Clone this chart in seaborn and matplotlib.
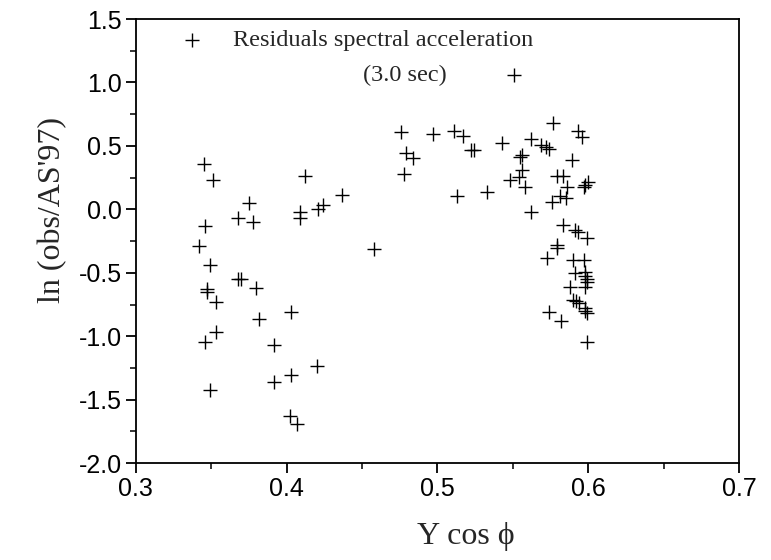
import numpy as np
import pandas as pd
import matplotlib
matplotlib.use('Agg')
import matplotlib.pyplot as plt
import seaborn as sns
from matplotlib.ticker import MultipleLocator

# residuals
y_cos_phi = [
    0.345, 0.351, 0.412, 0.375, 0.368, 0.378, 0.409, 0.409, 0.421, 0.424,
    0.346, 0.342, 0.349, 0.368, 0.370, 0.380, 0.347, 0.347, 0.353, 0.403,
    0.382, 0.353, 0.346, 0.392, 0.420, 0.403, 0.392, 0.349, 0.402, 0.407,
    0.437, 0.458,
    0.476, 0.497, 0.511, 0.517, 0.479, 0.484, 0.478, 0.522, 0.524, 0.513,
    0.533,
    0.551, 0.577, 0.593, 0.596, 0.543, 0.562, 0.569, 0.572, 0.574, 0.556,
    0.555, 0.589, 0.556, 0.548, 0.554, 0.558, 0.579, 0.583, 0.598, 0.597,
    0.586, 0.581, 0.576, 0.585, 0.562, 0.583, 0.591, 0.593, 0.599, 0.579,
    0.579, 0.573, 0.590, 0.597, 0.591, 0.598, 0.598, 0.599, 0.599, 0.588,
    0.598, 0.590, 0.592, 0.594, 0.598, 0.598, 0.599, 0.574, 0.582, 0.599,
    0.600,
]
ln_residual = [
    0.359, 0.231, 0.263, 0.047, -0.066, -0.100, -0.024, -0.066, 0.005, 0.034,
    -0.129, -0.291, -0.435, -0.546, -0.546, -0.622, -0.624, -0.653, -0.732, -0.811,
    -0.868, -0.968, -1.047, -1.067, -1.238, -1.306, -1.362, -1.427, -1.629, -1.689,
    0.110, -0.312,
    0.613, 0.595, 0.619, 0.579, 0.443, 0.404, 0.278, 0.464, 0.464, 0.107,
    0.133,
    1.062, 0.684, 0.616, 0.569, 0.522, 0.558, 0.509, 0.491, 0.475, 0.432,
    0.409, 0.391, 0.312, 0.233, 0.254, 0.180, 0.265, 0.265, 0.194, 0.173,
    0.173, 0.107, 0.055, 0.089, -0.018, -0.126, -0.166, -0.181, -0.225, -0.278,
    -0.304, -0.383, -0.402, -0.396, -0.501, -0.496, -0.522, -0.548, -0.569, -0.611,
    -0.614, -0.711, -0.724, -0.737, -0.776, -0.803, -0.820, -0.811, -0.882, -1.047,
    0.215,
]

df = pd.DataFrame({'ycos': y_cos_phi, 'resid': ln_residual})

sns.set_style('ticks')
plt.rcParams['font.family'] = ['Liberation Sans', 'DejaVu Sans']

fig = plt.figure(figsize=(7.71, 5.60), dpi=100)
ax = fig.add_axes([0.176, 0.173, 0.7825, 0.793])

sns.scatterplot(data=df, x='ycos', y='resid', marker='+', s=110,
                color='black', linewidth=1.0, ax=ax,
                label='Residuals spectral acceleration')

ax.set_xlim(0.3, 0.7)
ax.set_ylim(-2.0, 1.5)
ax.xaxis.set_major_locator(MultipleLocator(0.1))
ax.xaxis.set_minor_locator(MultipleLocator(0.05))
ax.yaxis.set_major_locator(MultipleLocator(0.5))
ax.yaxis.set_minor_locator(MultipleLocator(0.25))
ax.xaxis.set_major_formatter(plt.FormatStrFormatter('%.1f'))
ax.yaxis.set_major_formatter(plt.FormatStrFormatter('%.1f'))

for s in ax.spines.values():
    s.set_visible(True)
    s.set_linewidth(1.3)
    s.set_color('black')
ax.tick_params(which='major', direction='out', length=7, width=1.3,
               labelsize=18, colors='black', pad=3, top=False, right=False)
ax.tick_params(which='minor', direction='out', length=4, width=1.3,
               top=False, right=False)

serif = ['Liberation Serif', 'DejaVu Serif']
ax.set_xlabel('Y cos \u03d5', fontsize=23, family=serif)
ax.set_ylabel("ln (obs/AS'97)", fontsize=23, family=serif)
ax.xaxis.set_label_coords(0.547, -0.133)
ax.yaxis.set_label_coords(-0.114, 0.57)

leg = ax.legend(loc='upper left', bbox_to_anchor=(0.029, 1.01), frameon=False,
                prop={'family': serif, 'size': 17.5}, handletextpad=0.7,
                borderaxespad=0.2)
ax.text(0.446, 0.874, '(3.0 sec)', transform=ax.transAxes, ha='center',
        va='center', fontsize=17.5, family=serif)

plt.savefig('out.png', dpi=100)
